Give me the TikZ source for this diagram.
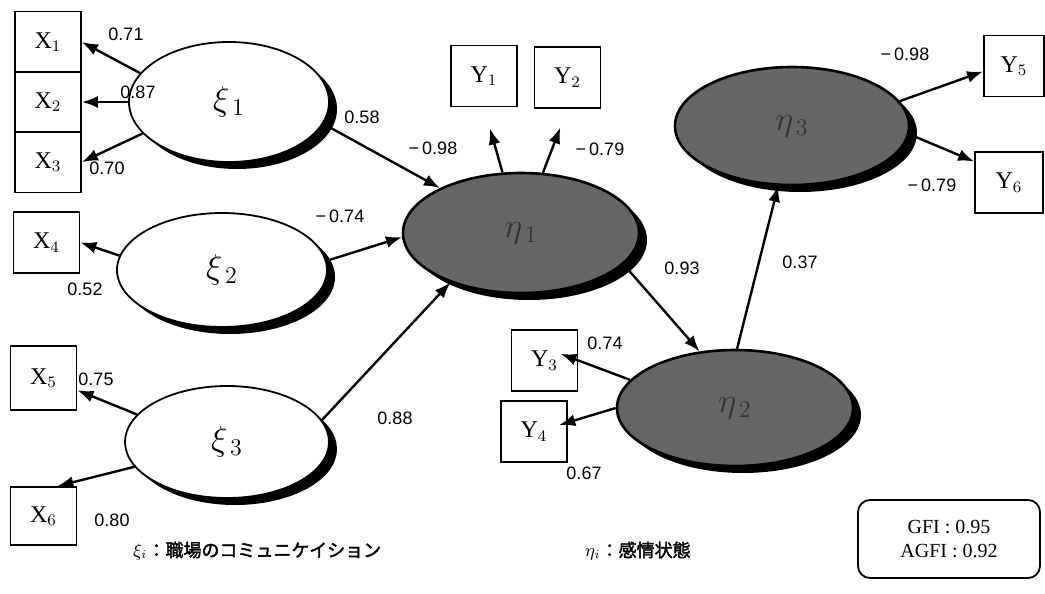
\documentclass[tikz,border=0pt]{standalone}
\usepackage{fontspec}
\setmainfont{Liberation Serif}
\setsansfont{Liberation Sans}
\newfontfamily\jpfont{Noto Sans CJK JP}[AutoFakeBold=2]
\usetikzlibrary{shapes.geometric,arrows.meta,shadows}

\begin{document}
\begin{tikzpicture}[x=0.5pt,y=-0.5pt,
  obs/.style={draw,line width=0.9pt,minimum width=33pt,minimum height=30.5pt,inner sep=0pt,font=\large},
  lat/.style={ellipse,draw,line width=0.9pt,fill=white,inner sep=0pt,font=\LARGE,
    drop shadow={shadow xshift=4pt,shadow yshift=-3.5pt,fill=black,opacity=1}},
  dark/.style={lat,fill=black!60,line width=1.3pt,text=black!80},
  path/.style={line width=1.2pt,-{Latex[length=8pt,width=6pt]}},
  coef/.style={font=\sffamily\small}]
  \useasboundingbox (0,0) rectangle (1045,594);

  \node[obs] (x1) at (48,42) {X$_1$};
  \node[obs] (x2) at (48,102) {X$_2$};
  \node[obs] (x3) at (48,162) {X$_3$};
  \node[obs] (x4) at (46.5,242.5) {X$_4$};
  \node[obs,minimum height=32pt] (x5) at (43.5,378) {X$_5$};
  \node[obs,minimum height=29pt] (x6) at (43.5,516) {X$_6$};
  \node[obs] (y1) at (484,76) {Y$_1$};
  \node[obs] (y2) at (567.5,77.5) {Y$_2$};
  \node[obs] (y3) at (544.5,360.5) {Y$_3$};
  \node[obs] (y4) at (534,431.5) {Y$_4$};
  \node[obs,minimum width=30pt] (y5) at (1014,66) {Y$_5$};
  \node[obs,minimum width=34pt] (y6) at (1009,182.5) {Y$_6$};

  \node[lat,minimum width=100pt,minimum height=60pt] (xi1) at (229,102) {$\xi_{\,1}$};
  \node[lat,minimum width=105pt,minimum height=57pt] (xi2) at (222,270) {$\xi_{\,2}$};
  \node[lat,minimum width=102pt,minimum height=56pt] (xi3) at (227,442) {$\xi_{\,3}$};
  \node[dark,minimum width=118pt,minimum height=60pt] (eta1) at (521,233) {$\eta_{\,1}$};
  \node[dark,minimum width=118pt,minimum height=58pt] (eta2) at (735,408) {$\eta_{\,2}$};
  \node[dark,minimum width=117pt,minimum height=59pt] (eta3) at (792,126) {$\eta_{\,3}$};

  \draw[path] (xi1.162) -- (x1.east);
  \draw[path] (xi1.180) -- (x2.east);
  \draw[path] (xi1.200) -- (x3.east);
  \draw[path] (xi2.172) -- (x4.east);
  \draw[path] (xi3.163) -- (x5.-20);
  \draw[path] (xi3.195) -- (x6.65);
  \draw[path] (xi1.347) -- (eta1.151);
  \draw[path] (xi2.5) -- (eta1.182);
  \draw[path] (xi3.13) -- (eta1.215);
  \draw[path,shorten >=11pt] (eta1.107) -- (y1.south);
  \draw[path,shorten >=10pt] (eta1.70) -- (y2.south);
  \draw[path] (eta1.343) -- (eta2.122);
  \draw[path] (eta2.88) -- (eta3.257);
  \draw[path,shorten >=-9.5pt] (eta2.165) -- (y3.east);
  \draw[path,shorten >=-4.5pt] (eta2.180) -- (y4.15);
  \draw[path] (eta3.13) -- (y5.190);
  \draw[path] (eta3.356) -- (y6.149);

  \node[coef] (c1) at (126,34) {0.71};
  \node[coef] (c2) at (138,92) {0.87};
  \node[coef] (c3) at (107,168) {0.70};
  \node[coef] (c4) at (85,289) {0.52};
  \node[coef] (c5) at (96,379) {0.75};
  \node[coef] (c6) at (112,520) {0.80};
  \node[coef] (c7) at (362,117) {0.58};
  \node[coef] (c8) at (340,216) {−\,0.74};
  \node[coef] (c9) at (395,418) {0.88};
  \node[coef] (c10) at (433,148) {−\,0.98};
  \node[coef] (c11) at (600,149) {−\,0.79};
  \node[coef] (c12) at (682,268) {0.93};
  \node[coef] (c13) at (800,262) {0.37};
  \node[coef] (c14) at (605,343) {0.74};
  \node[coef] (c15) at (584,473) {0.67};
  \node[coef] (c16) at (905,54) {−\,0.98};
  \node[coef] (c17) at (932,185) {−\,0.79};

  \node[draw,rounded corners=6pt,line width=0.9pt,minimum width=91pt,minimum height=39pt,
    align=center] (fit) at (949,539) {GFI : 0.95\\AGFI : 0.92};

  \node[anchor=west,font=\jpfont\bfseries\small] (leg1) at (126,551) {$\xi_i$：職場のコミュニケイション};
  \node[anchor=west,font=\jpfont\bfseries\small] (leg2) at (578,551) {$\eta_i$：感情状態};
\end{tikzpicture}
\end{document}
